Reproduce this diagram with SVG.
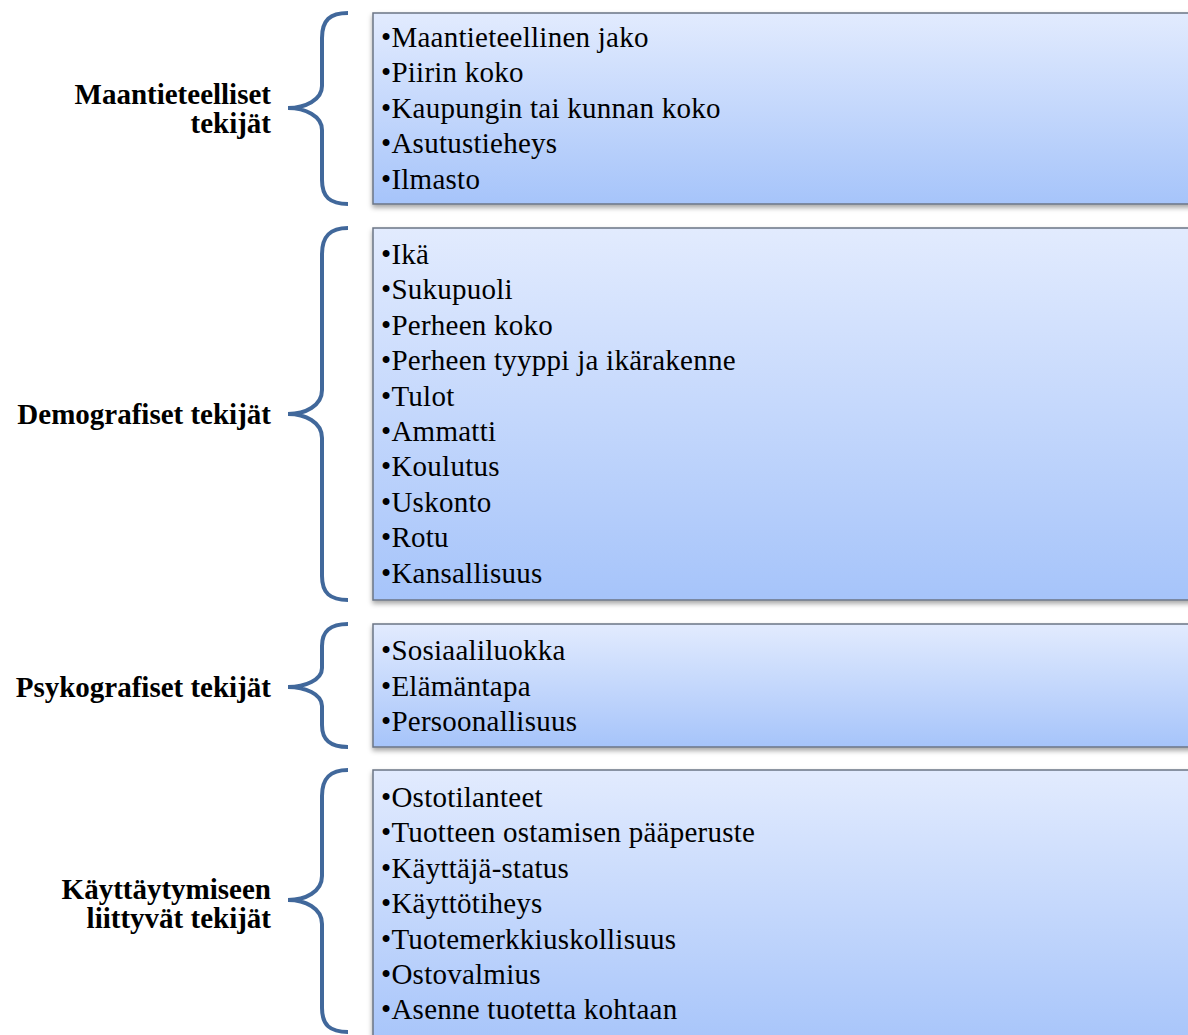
<svg xmlns="http://www.w3.org/2000/svg" width="1188" height="1035" viewBox="0 0 1188 1035">
<defs>
<linearGradient id="g" x1="0" y1="0" x2="0" y2="1">
<stop offset="0" stop-color="#e2ebfe"/>
<stop offset="1" stop-color="#a6c4fa"/>
</linearGradient>
<filter id="sh" x="-5%" y="-5%" width="110%" height="120%">
<feDropShadow dx="0" dy="3" stdDeviation="2.5" flood-color="#000" flood-opacity="0.35"/>
</filter>
</defs>
<style>
.box{fill:url(#g);stroke:#6b7585;stroke-width:1.5;filter:url(#sh)}
.br{fill:none;stroke:#41689b;stroke-width:4;stroke-linecap:butt}
.t{font-family:"Liberation Serif","Times New Roman",serif;font-size:29px;letter-spacing:0.25px;fill:#000}
.l{font-family:"Liberation Serif","Times New Roman",serif;font-size:29px;font-weight:bold;fill:#000;text-anchor:end}
</style>
<rect width="1188" height="1035" fill="#fff"/>
<g id="connectors">
<path class="br" d="M348,13 C330,13 322,20 322,38 L322,86 C322,100 305,108 288,108 C305,108 322,116 322,130 L322,180 C322,197 330,204 348,204"/>
<path class="br" d="M348,228 C330,228 322,236 322,254 L322,390 C322,406 305,414 288,414 C305,414 322,422 322,438 L322,576 C322,593 330,600 348,600"/>
<path class="br" d="M348,624 C330,624 322,631 322,646 L322,668 C322,680 305,687 288,687 C305,687 322,694 322,706 L322,725 C322,740 330,747 348,747"/>
<path class="br" d="M348,770 C330,770 322,778 322,796 L322,876 C322,892 305,900 288,900 C305,900 322,908 322,924 L322,1008 C322,1025 330,1032 348,1032"/>
</g>
<g id="n1">
<text class="l" x="271" y="104">Maantieteelliset</text>
<text class="l" x="271" y="133">tekijät</text>
<rect class="box" x="373" y="13" width="820" height="191"/>
<text class="t" x="381" y="47">•Maantieteellinen jako</text>
<text class="t" x="381" y="82">•Piirin koko</text>
<text class="t" x="381" y="118">•Kaupungin tai kunnan koko</text>
<text class="t" x="381" y="153">•Asutustieheys</text>
<text class="t" x="381" y="189">•Ilmasto</text>
</g>
<g id="n2">
<text class="l" x="271" y="424">Demografiset tekijät</text>
<rect class="box" x="373" y="228" width="820" height="372"/>
<text class="t" x="381" y="264">•Ikä</text>
<text class="t" x="381" y="299">•Sukupuoli</text>
<text class="t" x="381" y="335">•Perheen koko</text>
<text class="t" x="381" y="370">•Perheen tyyppi ja ikärakenne</text>
<text class="t" x="381" y="406">•Tulot</text>
<text class="t" x="381" y="441">•Ammatti</text>
<text class="t" x="381" y="476">•Koulutus</text>
<text class="t" x="381" y="512">•Uskonto</text>
<text class="t" x="381" y="547">•Rotu</text>
<text class="t" x="381" y="583">•Kansallisuus</text>
</g>
<g id="n3">
<text class="l" x="271" y="697">Psykografiset tekijät</text>
<rect class="box" x="373" y="624" width="820" height="123"/>
<text class="t" x="381" y="660">•Sosiaaliluokka</text>
<text class="t" x="381" y="696">•Elämäntapa</text>
<text class="t" x="381" y="731">•Persoonallisuus</text>
</g>
<g id="n4">
<text class="l" x="271" y="899">Käyttäytymiseen</text>
<text class="l" x="271" y="928">liittyvät tekijät</text>
<rect class="box" x="373" y="770" width="820" height="280"/>
<text class="t" x="381" y="807">•Ostotilanteet</text>
<text class="t" x="381" y="842">•Tuotteen ostamisen pääperuste</text>
<text class="t" x="381" y="878">•Käyttäjä-status</text>
<text class="t" x="381" y="913">•Käyttötiheys</text>
<text class="t" x="381" y="949">•Tuotemerkkiuskollisuus</text>
<text class="t" x="381" y="984">•Ostovalmius</text>
<text class="t" x="381" y="1019">•Asenne tuotetta kohtaan</text>
</g>
</svg>
